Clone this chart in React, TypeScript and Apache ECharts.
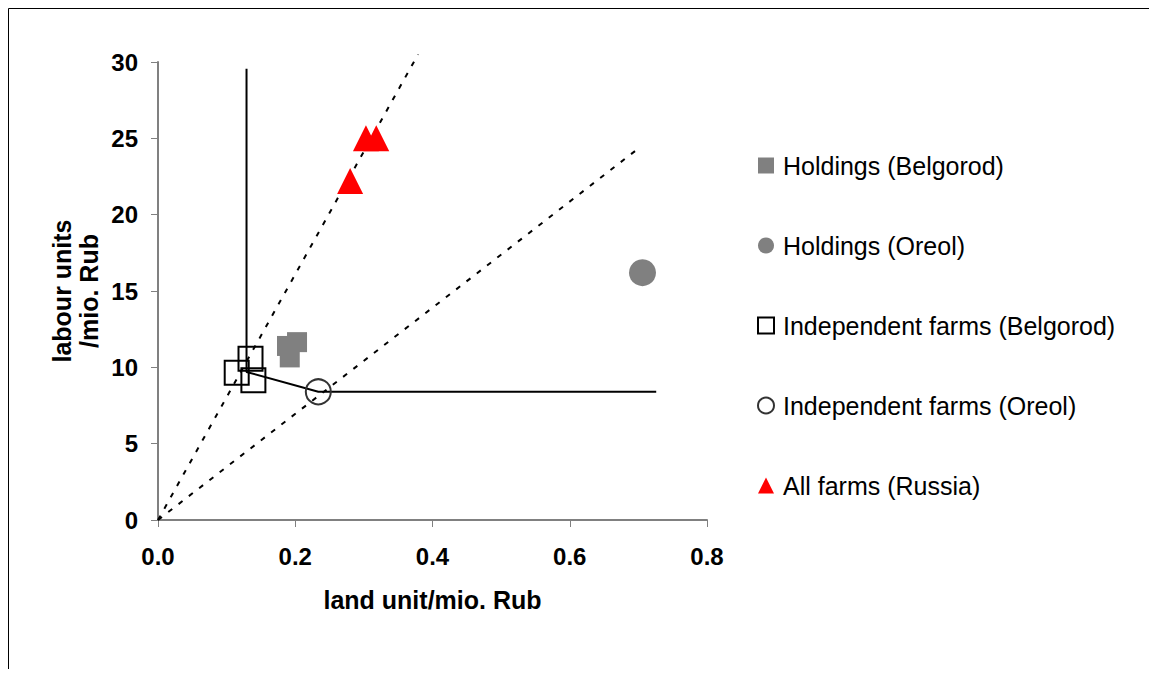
import React, { useEffect, useRef } from "react";
import * as echarts from "echarts";

// Scatter groups: [land units per mio. Rub, labour units per mio. Rub]
const holdingsBelgorod: number[][] = [
  [0.2026, 11.65],
  [0.188, 11.4],
  [0.192, 10.65],
];
const holdingsOreol: number[][] = [[0.706, 16.2]];
const independentBelgorod: number[][] = [
  [0.1348, 10.57],
  [0.1147, 9.65],
  [0.139, 9.16],
];
const independentOreol: number[][] = [[0.2336, 8.4]];
const allFarmsRussia: number[][] = [
  [0.303, 25.0],
  [0.318, 25.0],
  [0.28, 22.2],
];

// Reference lines
const steepRay: number[][] = [
  [0, 0],
  [0.379, 30.5],
];
const flatRay: number[][] = [
  [0, 0],
  [0.699, 24.3],
];
const boundaryLine: number[][] = [
  [0.129, 29.55],
  [0.129, 9.7],
  [0.2336, 8.4],
  [0.726, 8.4],
];

const xTicks = { min: 0, max: 0.8, interval: 0.2 };
const yTicks = { min: 0, max: 30, interval: 5 };

const legendNames = [
  "Holdings (Belgorod)",
  "Holdings (Oreol)",
  "Independent farms (Belgorod)",
  "Independent farms (Oreol)",
  "All farms (Russia)",
];

const FONT = "'Liberation Sans', Arial, Helvetica, sans-serif";

export default function App() {
  const ref = useRef<HTMLDivElement>(null);

  useEffect(() => {
    if (!ref.current) return;
    const chart = echarts.init(ref.current, undefined, { renderer: "svg" });
    const W = 1141;
    const H = 661;

    chart.setOption({
      animation: false,
      backgroundColor: "#ffffff",
      textStyle: { fontFamily: FONT, color: "#000" },
      grid: { left: 150, right: W - 699, top: 54, bottom: H - 512 },
      graphic: [
        {
          type: "rect",
          silent: true,
          shape: { x: 0.5, y: 0.5, width: W + 20, height: H + 20 },
          style: { fill: "none", stroke: "#000", lineWidth: 1 },
        },
      ],
      legend: {
        orient: "vertical",
        left: 749,
        top: 145,
        padding: 0,
        itemWidth: 16,
        itemHeight: 16,
        itemGap: 55,
        data: legendNames,
        textStyle: {
          fontFamily: FONT,
          fontSize: 25,
          color: "#000",
          lineHeight: 25,
          padding: [0, 0, 0, 4],
        },
      },
      xAxis: {
        type: "value",
        min: xTicks.min,
        max: xTicks.max,
        interval: xTicks.interval,
        name: "land unit/mio. Rub",
        nameLocation: "middle",
        nameGap: 67,
        nameTextStyle: { fontFamily: FONT, fontSize: 25, fontWeight: "bold", color: "#000" },
        axisLine: { lineStyle: { color: "#808080", width: 2 } },
        axisTick: { show: true, inside: false, length: 7, lineStyle: { color: "#808080", width: 1 } },
        axisLabel: {
          margin: 24,
          fontFamily: FONT,
          fontSize: 24,
          fontWeight: "bold",
          color: "#000",
          formatter: (v: number) => v.toFixed(1),
        },
        splitLine: { show: false },
      },
      yAxis: {
        type: "value",
        min: yTicks.min,
        max: yTicks.max,
        interval: yTicks.interval,
        name: "labour units\n/mio. Rub",
        nameLocation: "middle",
        nameRotate: 90,
        nameGap: 56,
        nameTextStyle: {
          fontFamily: FONT,
          fontSize: 25,
          fontWeight: "bold",
          color: "#000",
          lineHeight: 27,
          align: "center",
        },
        axisLine: { show: true, lineStyle: { color: "#808080", width: 2 } },
        axisTick: { show: true, inside: false, length: 7, lineStyle: { color: "#808080", width: 1 } },
        axisLabel: {
          margin: 20,
          fontFamily: FONT,
          fontSize: 24,
          fontWeight: "bold",
          color: "#000",
        },
        splitLine: { show: false },
      },
      series: [
        {
          name: "steep ray",
          type: "line",
          data: steepRay,
          symbol: "none",
          clip: false,
          z: 1,
          lineStyle: { color: "#000", width: 2, type: [5, 8] },
        },
        {
          name: "flat ray",
          type: "line",
          data: flatRay,
          symbol: "none",
          clip: false,
          z: 1,
          lineStyle: { color: "#000", width: 2, type: [5, 8] },
        },
        {
          name: "boundary",
          type: "line",
          data: boundaryLine,
          symbol: "none",
          clip: false,
          z: 1,
          lineStyle: { color: "#000", width: 2 },
        },
        {
          name: legendNames[0],
          type: "scatter",
          data: holdingsBelgorod,
          symbol: "rect",
          symbolSize: 20,
          z: 3,
          itemStyle: { color: "#808080", opacity: 1 },
        },
        {
          name: legendNames[1],
          type: "scatter",
          data: holdingsOreol,
          symbol: "circle",
          symbolSize: 27,
          z: 3,
          itemStyle: { color: "#808080", opacity: 1 },
        },
        {
          name: legendNames[2],
          type: "scatter",
          data: independentBelgorod,
          symbol: "rect",
          symbolSize: 24,
          z: 3,
          itemStyle: { color: "rgba(255,255,255,0)", borderColor: "#000", borderWidth: 2, opacity: 1 },
        },
        {
          name: legendNames[3],
          type: "scatter",
          data: independentOreol,
          symbol: "circle",
          symbolSize: 25,
          z: 3,
          itemStyle: { color: "rgba(255,255,255,0)", borderColor: "#333", borderWidth: 2, opacity: 1 },
        },
        {
          name: legendNames[4],
          type: "scatter",
          data: allFarmsRussia,
          symbol: "triangle",
          symbolSize: 26,
          z: 4,
          itemStyle: { color: "#ff0000", opacity: 1 },
        },
      ],
    });

    return () => chart.dispose();
  }, []);

  return <div ref={ref} style={{ width: 1141, height: 661 }} />;
}
